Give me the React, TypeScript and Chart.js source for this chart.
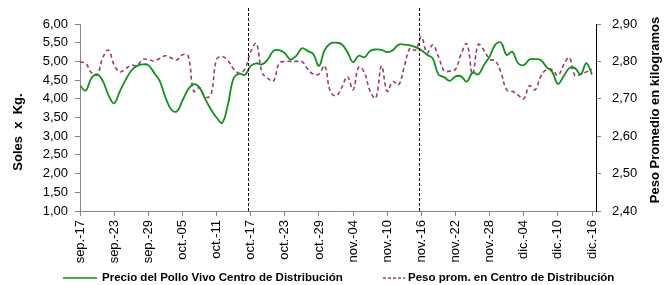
import React, { useEffect, useRef } from "react";
import { Chart, registerables } from "chart.js";

Chart.register(...registerables);

// X tick labels (every 6 days, starting sep.-17)
const tickLabels = [
  "sep.-17", "sep.-23", "sep.-29", "oct.-05", "oct.-11", "oct.-17", "oct.-23", "oct.-29",
  "nov.-04", "nov.-10", "nov.-16", "nov.-22", "nov.-28", "dic.-04", "dic.-10", "dic.-16",
];
const tickStep = 6;

// Daily series (sep.-17 .. dic.-16)
const precio = [
  4.35, 4.22, 4.55, 4.65, 4.48, 4.10, 3.88, 4.20, 4.50, 4.75,
  4.88, 4.92, 4.90, 4.70, 4.48, 4.05, 3.72, 3.66, 3.95, 4.25,
  4.39, 4.30, 4.00, 3.72, 3.50, 3.36, 3.85, 4.55, 4.67, 4.64,
  4.88, 4.95, 4.92, 5.05, 5.28, 5.30, 5.22, 5.05, 5.15, 5.35,
  5.28, 5.20, 4.88, 5.30, 5.48, 5.50, 5.46, 5.25, 4.98, 5.15,
  5.11, 5.28, 5.32, 5.31, 5.25, 5.30, 5.45, 5.45, 5.43, 5.38,
  5.30, 5.18, 5.08, 4.65, 4.58, 4.48, 4.60, 4.60, 4.46, 4.70,
  4.65, 4.90, 5.13, 5.45, 5.50, 5.17, 5.26, 4.95, 4.90, 5.05,
  5.06, 5.04, 4.85, 4.72, 4.40, 4.60, 4.82, 4.82, 4.65, 4.95,
  4.65,
];
const peso = [
  2.798, 2.795, 2.770, 2.764, 2.810, 2.830, 2.790, 2.772, 2.780, 2.790,
  2.788, 2.805, 2.805, 2.801, 2.808, 2.815, 2.810, 2.804, 2.818, 2.815,
  2.720, 2.730, 2.705, 2.710, 2.805, 2.813, 2.802, 2.780, 2.768, 2.780,
  2.826, 2.848, 2.770, 2.755, 2.747, 2.795, 2.800, 2.800, 2.800, 2.800,
  2.780, 2.766, 2.766, 2.788, 2.720, 2.708, 2.730, 2.759, 2.724, 2.785,
  2.770, 2.720, 2.702, 2.788, 2.720, 2.746, 2.737, 2.786, 2.835, 2.830,
  2.866, 2.823, 2.844, 2.813, 2.775, 2.774, 2.779, 2.820, 2.847, 2.766,
  2.845, 2.830, 2.806, 2.802, 2.770, 2.724, 2.720, 2.710, 2.700, 2.735,
  2.724, 2.760, 2.778, 2.778, 2.762, 2.790, 2.810, 2.762, 2.766, 2.772,
  2.779,
];

const leftTicks = [1, 1.5, 2, 2.5, 3, 3.5, 4, 4.5, 5, 5.5, 6];
const rightTicks = [2.4, 2.5, 2.6, 2.7, 2.8, 2.9];
const dividers = [29.5, 59.5];

const seriesNames = [
  "Precio del Pollo Vivo Centro de Distribución",
  "Peso prom. en Centro de Distribución",
];
const axisTitles = ["Soles  x  Kg.", "Peso Promedio en kilogramos"];

const FONT = "'Liberation Sans', Arial, sans-serif";
const GREEN = "#11901a";
const PLUM = "#9e3a72";
const AXIS = "#868686";

const overlay = {
  id: "overlay",
  afterDatasetsDraw(chart: any) {
    const ctx = chart.ctx;
    const xs = chart.scales.x;
    const area = chart.chartArea;
    ctx.save();
    ctx.strokeStyle = "#000";
    ctx.lineWidth = 1;
    ctx.setLineDash([3, 2]);
    dividers.forEach((d) => {
      const x = Math.round(xs.getPixelForValue(d)) + 0.5;
      ctx.beginPath();
      ctx.moveTo(x, 8);
      ctx.lineTo(x, area.bottom);
      ctx.stroke();
    });
    ctx.restore();
  },
  afterDraw(chart: any) {
    const ctx = chart.ctx;
    ctx.save();
    ctx.fillStyle = "#000";
    ctx.font = `bold 13px ${FONT}`;
    ctx.textAlign = "center";
    ctx.textBaseline = "middle";
    // left title
    ctx.save();
    ctx.translate(18, 132);
    ctx.rotate(-Math.PI / 2);
    ctx.fillText(axisTitles[0], 0, 0);
    ctx.restore();
    // right title
    ctx.save();
    ctx.translate(655, 110);
    ctx.rotate(-Math.PI / 2);
    ctx.fillText(axisTitles[1], 0, 0);
    ctx.restore();

    // legend
    const ly = 278;
    ctx.font = `bold 11.5px ${FONT}`;
    ctx.textAlign = "left";
    ctx.lineWidth = 1.5;
    ctx.strokeStyle = GREEN;
    ctx.beginPath();
    ctx.moveTo(63, ly);
    ctx.lineTo(97, ly);
    ctx.stroke();
    ctx.fillText(seriesNames[0], 102, ly);
    ctx.strokeStyle = PLUM;
    ctx.setLineDash([3, 2]);
    ctx.beginPath();
    ctx.moveTo(383, ly);
    ctx.lineTo(405, ly);
    ctx.stroke();
    ctx.setLineDash([]);
    ctx.fillText(seriesNames[1], 408, ly);
    ctx.restore();
  },
};

export default function App() {
  const ref = useRef<HTMLCanvasElement | null>(null);
  useEffect(() => {
    if (!ref.current) return;
    const chart = new Chart(ref.current, {
      type: "line",
      data: {
        datasets: [
          {
            label: seriesNames[0],
            data: precio.map((v, i) => ({ x: i, y: v })),
            yAxisID: "y",
            borderColor: GREEN,
            borderWidth: 1.8,
            pointRadius: 0,
            tension: 0.4,
            fill: false,
          },
          {
            label: seriesNames[1],
            data: peso.map((v, i) => ({ x: i, y: v })),
            yAxisID: "y1",
            borderColor: PLUM,
            borderWidth: 1.6,
            borderDash: [4, 3],
            pointRadius: 0,
            tension: 0.4,
            fill: false,
          },
        ],
      },
      options: {
        responsive: false,
        animation: false,
        layout: { padding: { top: 24, left: 0, right: 0, bottom: 0 } },
        plugins: { legend: { display: false }, tooltip: { enabled: false } },
        scales: {
          x: {
            type: "linear",
            min: 0,
            max: 90.7,
            afterBuildTicks: (s: any) => {
              s.ticks = tickLabels.map((_, i) => ({ value: i * tickStep }));
            },
            afterFit: (s: any) => {
              s.height = 74;
            },
            grid: { display: true, drawOnChartArea: false, drawTicks: true, tickLength: 5, color: AXIS },
            border: { display: true, color: AXIS, width: 1 },
            ticks: {
              maxRotation: 90,
              minRotation: 90,
              autoSkip: false,
              padding: 4,
              color: "#000",
              font: { family: FONT, size: 13 },
              callback: (v: any) => tickLabels[Math.round(Number(v) / tickStep)] ?? "",
            },
          },
          y: {
            position: "left",
            min: 1,
            max: 6,
            afterBuildTicks: (s: any) => {
              s.ticks = leftTicks.map((v) => ({ value: v }));
            },
            afterFit: (s: any) => {
              s.width = 80;
            },
            grid: { display: true, drawOnChartArea: false, drawTicks: true, tickLength: 5, color: AXIS },
            border: { display: true, color: AXIS, width: 1 },
            ticks: {
              padding: 7,
              color: "#000",
              font: { family: FONT, size: 13 },
              callback: (v: any) => Number(v).toFixed(2).replace(".", ","),
            },
          },
          y1: {
            position: "right",
            min: 2.4,
            max: 2.9,
            afterBuildTicks: (s: any) => {
              s.ticks = rightTicks.map((v) => ({ value: v }));
            },
            afterFit: (s: any) => {
              s.width = 69;
            },
            grid: { display: true, drawOnChartArea: false, drawTicks: true, tickLength: 5, color: AXIS },
            border: { display: true, color: "#000", width: 1 },
            ticks: {
              padding: 11,
              color: "#000",
              font: { family: FONT, size: 13 },
              callback: (v: any) => Number(v).toFixed(2).replace(".", ","),
            },
          },
        },
      },
      plugins: [overlay],
    } as any);
    return () => chart.destroy();
  }, []);
  return (
    <div style={{ position: "absolute", left: 0, top: 0, width: 665, height: 285, background: "#fff" }}>
      <canvas ref={ref} width={665} height={285} style={{ width: 665, height: 285, display: "block" }} />
    </div>
  );
}
